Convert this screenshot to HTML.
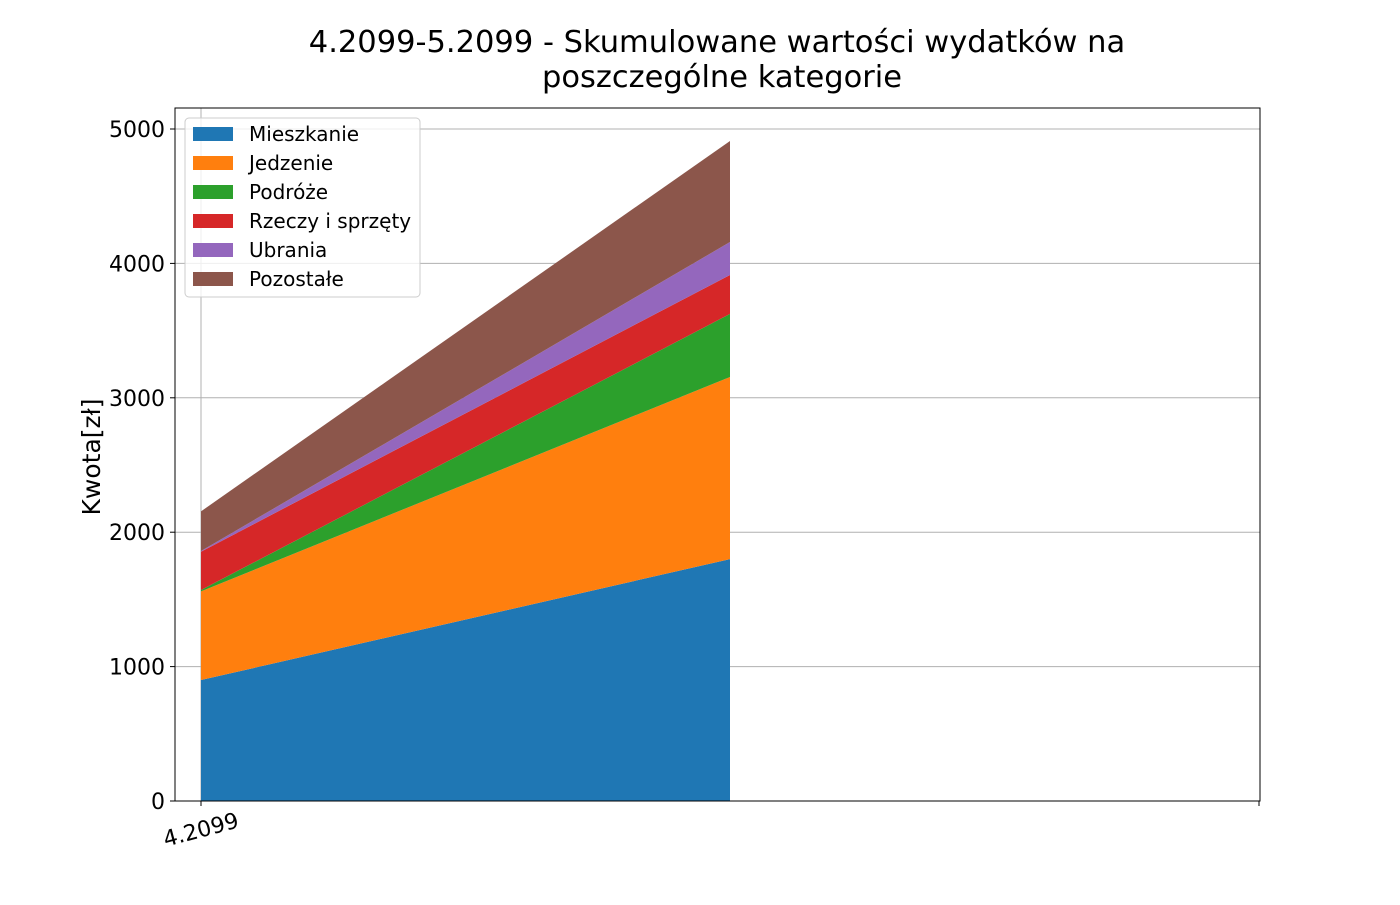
<!DOCTYPE html>
<html><head><meta charset="utf-8"><style>
body{margin:0;background:#fff;}
svg text{font-family:"DejaVu Sans","Liberation Sans",sans-serif;}
</style></head><body>
<svg id="chart" width="1400" height="900" xmlns="http://www.w3.org/2000/svg">
<text x="717" y="52" font-size="30.5" text-anchor="middle">4.2099-5.2099 - Skumulowane wartości wydatków na</text>
<text x="722" y="87" font-size="30.5" text-anchor="middle">poszczególne kategorie</text>
<g id="grid"></g><g id="areas"></g><g id="axes"></g><g id="legend"></g>
</svg>
<script>
const categories = ["4.2099", "5.2099"];
const seriesNames = ["Mieszkanie","Jedzenie","Podróże","Rzeczy i sprzęty","Ubrania","Pozostałe"];
const mieszkanie = [900, 1800];
const jedzenie = [660, 1355];
const podroze = [10, 469];
const rzeczy = [285, 290];
const ubrania = [5, 245];
const pozostale = [295, 752];
const yTicks = [0, 1000, 2000, 3000, 4000, 5000];
const xTickLabels = ["4.2099", ""];
const colors = ["#1f77b4","#ff7f0e","#2ca02c","#d62728","#9467bd","#8c564b"];
const series = [mieszkanie, jedzenie, podroze, rzeczy, ubrania, pozostale];
const L=175,R=1260,T=108,B=801;
const X=i=>201+(i)*529;
const Y=v=>801-v*0.1344;
const NS="http://www.w3.org/2000/svg";
function mk(tag,attrs,parent){const e=document.createElementNS(NS,tag);for(const k in attrs)e.setAttribute(k,attrs[k]);parent.appendChild(e);return e;}
const grid=document.getElementById('grid'),areas=document.getElementById('areas'),axes=document.getElementById('axes'),legend=document.getElementById('legend');
yTicks.forEach(t=>{
  if(t>0){const g=mk('line',{x1:L,x2:R,y1:Y(t),y2:Y(t),stroke:'#b0b0b0','stroke-width':1},grid);
  
  }
  const tk=mk('line',{x1:L-5,x2:L,y1:Y(t),y2:Y(t),stroke:'#000'},axes);
  
  
  const lb=mk('text',{x:L-10,y:Y(t)+8,'font-size':22,'text-anchor':'end'},axes);lb.textContent=t;
  
  
});
const vg=mk('line',{x1:X(0),x2:X(0),y1:T,y2:B,stroke:'#b0b0b0'},grid);


let base=categories.map(()=>0);
series.forEach((s,k)=>{
  const top=base.map((b,i)=>b+s[i]);
  let d='';
  top.forEach((v,i)=>{d+=(i?'L':'M')+X(i)+','+Y(v);});
  for(let i=base.length-1;i>=0;i--)d+='L'+X(i)+','+Y(base[i]);
  const p=mk('path',{d:d+'Z',fill:colors[k]},areas);
  
  
  base=top;
});
mk('rect',{x:L,y:T,width:R-L,height:B-T,fill:'none',stroke:'#000','stroke-width':1},axes);
[0,2].forEach((i,j)=>{
  const t=mk('line',{x1:X(i),x2:X(i),y1:B,y2:B+5,stroke:'#000'},axes);
  
  
});
const xl=mk('text',{x:0,y:0,'font-size':22,'text-anchor':'end',transform:`translate(${X(0)+39},${B+26}) rotate(-15)`},axes);
xl.textContent=xTickLabels[0];


const yt=mk('text',{x:0,y:0,'font-size':25,'text-anchor':'middle',transform:`translate(100,457) rotate(-90)`},axes);
yt.textContent='Kwota[zł]';


const lb=mk('rect',{x:185,y:118,width:235,height:179,rx:4,fill:'#fff','fill-opacity':0.8,stroke:'#ccc'},legend);


seriesNames.forEach((n,k)=>{
  const y=134+k*29;
  const sw=mk('rect',{x:193,y:y-7,width:40,height:14,fill:colors[k]},legend);
  
  
  const t=mk('text',{x:249,y:y+7,'font-size':20},legend);t.textContent=n;
  
  
});
</script>
</body></html>
